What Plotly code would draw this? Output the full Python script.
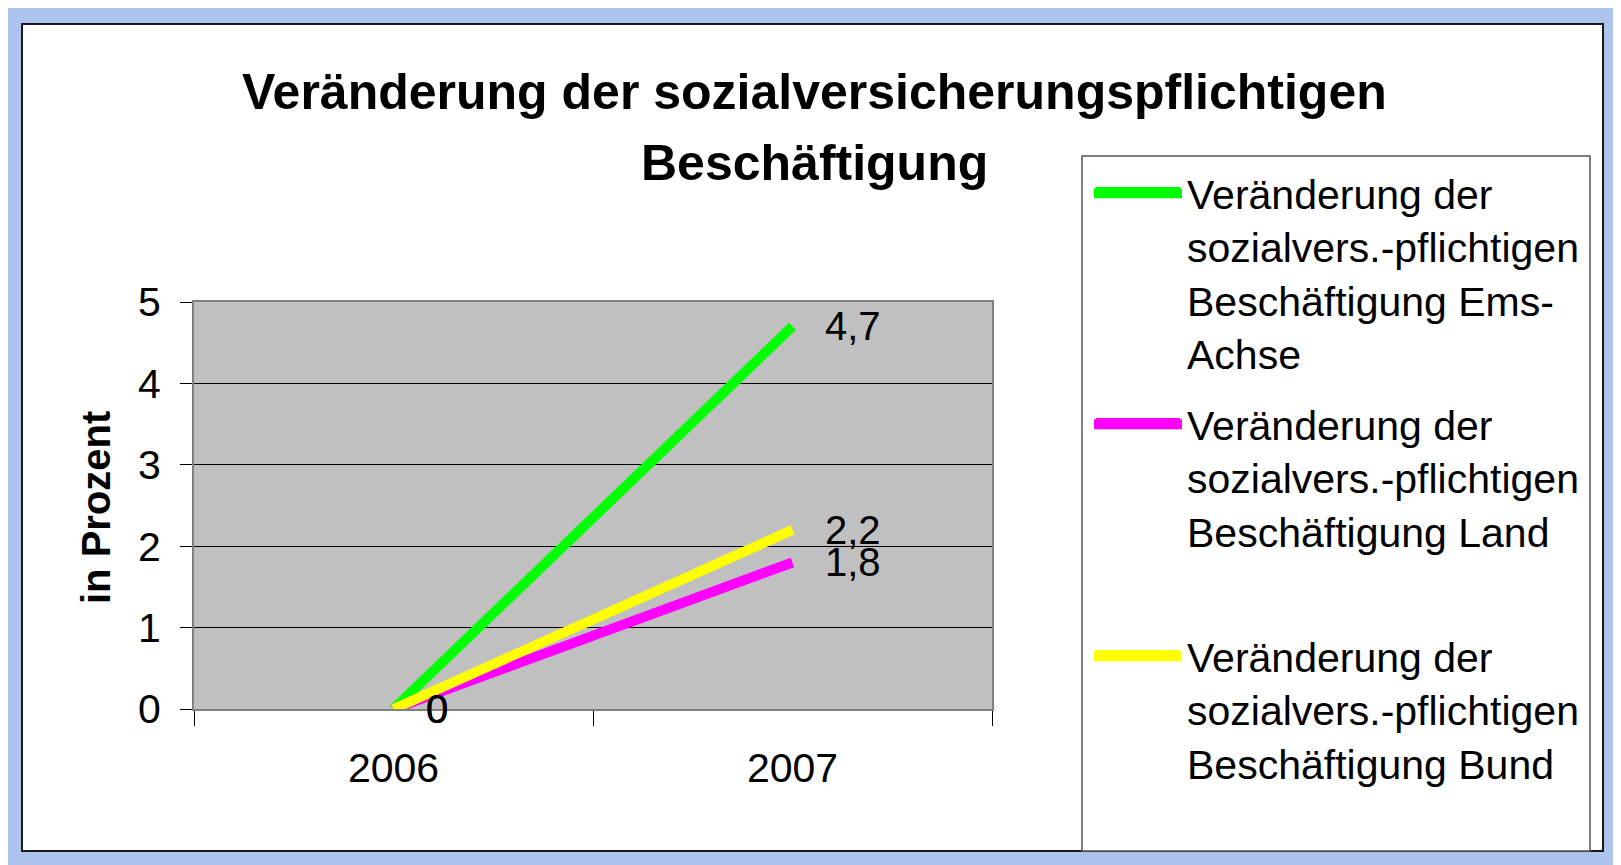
import plotly.graph_objects as go

# Daten
jahre = ["2006", "2007"]
ems_achse = [0, 4.7]
land = [0, 1.8]
bund = [0, 2.2]

namen = [
    "Veränderung der<br>sozialvers.-pflichtigen<br>Beschäftigung Ems-<br>Achse",
    "Veränderung der<br>sozialvers.-pflichtigen<br>Beschäftigung Land",
    "Veränderung der<br>sozialvers.-pflichtigen<br>Beschäftigung Bund",
]
farben = ["#00FF00", "#FF00FF", "#FFFF00"]
reihen = [ems_achse, land, bund]
legenden = ["legend", "legend2", "legend3"]
legenden_top = [160, 391, 623]     # Seitenpixel
symbol_y = [192, 423, 655]         # Mitte der Legendensymbole

W, H = 1621, 865
OFF = 8                            # Rand des Body im HTML
Lp, Rp, Tp, Bp = 194, 992, 302, 709   # Plotbereich in Seitenpixeln


def fx(x):
    return (x - Lp) / (Rp - Lp)


def fy(y):
    return (Bp - y) / (Bp - Tp)


FONT = "Liberation Sans, Arial, sans-serif"

fig = go.Figure()
for werte, name, farbe, leg in zip(reihen, namen, farben, legenden):
    fig.add_trace(go.Scatter(
        x=jahre, y=werte, name=name, mode="lines",
        line=dict(color=farbe, width=10),
        legend=leg,
    ))

# Datenbeschriftungen
annotations = []
for werte in reihen:
    for k, v in enumerate(werte):
        annotations.append(dict(
            x=k, y=v, xref="x", yref="y", text=str(v).replace(".", ","),
            showarrow=False, xanchor="left", yanchor="middle", xshift=30,
            font=dict(family=FONT, size=40, color="black"),
        ))

# Titel und Achsentitel
annotations.append(dict(
    x=fx(814), y=fy(92), xref="paper", yref="paper", showarrow=False,
    text="<b>Veränderung der sozialversicherungspflichtigen</b>",
    xanchor="center", yanchor="middle",
    font=dict(family=FONT, size=50, color="black"),
))
annotations.append(dict(
    x=fx(814), y=fy(163), xref="paper", yref="paper", showarrow=False,
    text="<b>Beschäftigung</b>",
    xanchor="center", yanchor="middle",
    font=dict(family=FONT, size=50, color="black"),
))
annotations.append(dict(
    x=fx(96), y=fy(508), xref="paper", yref="paper", showarrow=False,
    text="<b>in Prozent</b>", textangle=-90,
    xanchor="center", yanchor="middle",
    font=dict(family=FONT, size=40, color="black"),
))

shapes = [
    # weisse Flaeche
    dict(type="rect", xref="paper", yref="paper", layer="below",
         x0=fx(22), x1=fx(1603), y0=fy(24), y1=fy(851),
         fillcolor="white", line=dict(color="#1a1a1a", width=2)),
    # Plotflaeche
    dict(type="rect", xref="paper", yref="paper", layer="below",
         x0=0, x1=1, y0=0, y1=1,
         fillcolor="#C0C0C0", line=dict(width=0)),
    # Legendenrahmen
    dict(type="rect", xref="paper", yref="paper", layer="below",
         x0=fx(1082), x1=fx(1590), y0=fy(156), y1=fy(851),
         fillcolor="white", line=dict(color="#555555", width=1.5)),
]
# dickere Legendensymbole (Plotly begrenzt die Linienbreite in der Legende)
for farbe, sy in zip(farben, symbol_y):
    shapes.append(dict(
        type="line", xref="paper", yref="paper", layer="below",
        x0=fx(1096), x1=fx(1180), y0=fy(sy), y1=fy(sy),
        line=dict(color=farbe, width=10),
    ))

leg_style = dict(
    xanchor="left", yanchor="top",
    bgcolor="rgba(0,0,0,0)", borderwidth=0,
    font=dict(family=FONT, size=41, color="black"),
    valign="top", itemwidth=88,
)

fig.update_layout(
    width=W, height=H,
    margin=dict(l=Lp - OFF, r=W - (Rp - OFF), t=Tp - OFF, b=H - (Bp - OFF), pad=0),
    paper_bgcolor="#ADC4EF",
    plot_bgcolor="rgba(0,0,0,0)",
    showlegend=True,
    legend=dict(x=fx(1089), y=fy(legenden_top[0]), **leg_style),
    legend2=dict(x=fx(1089), y=fy(legenden_top[1]), **leg_style),
    legend3=dict(x=fx(1089), y=fy(legenden_top[2]), **leg_style),
    xaxis=dict(
        type="category", range=[-0.5, 1.5],
        tickson="boundaries", ticks="outside", ticklen=15, tickcolor="black",
        showgrid=False, showline=True, linecolor="#808080", linewidth=2,
        mirror=True, ticklabelstandoff=22,
        tickfont=dict(family=FONT, size=41, color="black"),
    ),
    yaxis=dict(
        range=[0, 5], dtick=1, ticks="outside", ticklen=12, tickcolor="black",
        showgrid=True, gridcolor="black", gridwidth=1, zeroline=False,
        showline=True, linecolor="#808080", linewidth=2, mirror=True,
        ticklabelstandoff=11,
        tickfont=dict(family=FONT, size=41, color="black"),
    ),
    shapes=shapes,
    annotations=annotations,
)

fig.write_html("out.html")
